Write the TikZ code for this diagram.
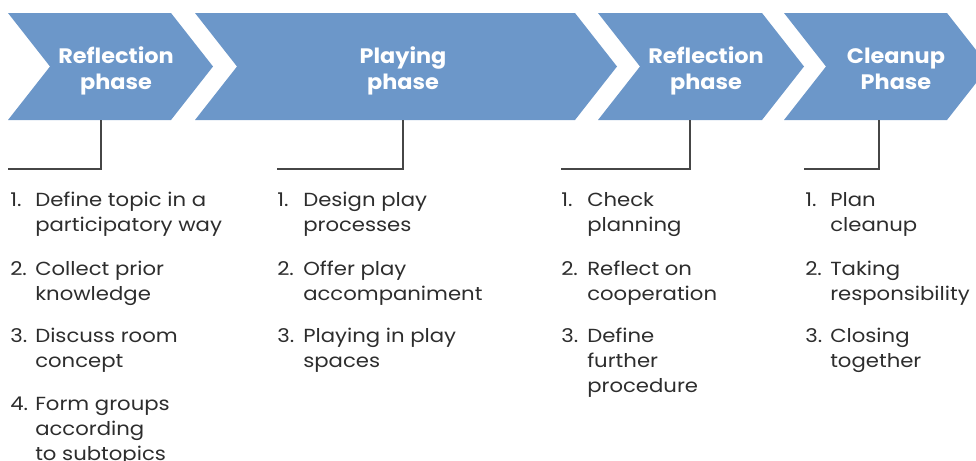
\documentclass[tikz,border=0pt]{standalone}
\usepackage{fontspec}
\setmainfont{Poppins}
\newfontfamily\headfont[FakeStretch=1.07]{Poppins}
\newfontfamily\listfont[FakeStretch=1.12]{Poppins}

\definecolor{phaseblue}{RGB}{108,151,201}
\definecolor{linegray}{RGB}{70,70,70}
\definecolor{textgray}{RGB}{45,45,45}

\tikzset{
  phase/.style={anchor=north, yshift=13.65pt, text=white, align=center,
    inner sep=0pt, font=\headfont\bfseries\fontsize{15.7}{19.5}\selectfont},
  num/.style={anchor=base west, inner sep=0pt, text=textgray,
    font=\listfont\fontsize{14.2}{18.75}\selectfont},
  item/.style={anchor=north west, yshift=13.125pt, align=left, inner sep=0pt,
    text=textgray, font=\listfont\fontsize{14.2}{18.75}\selectfont},
  tick/.style={draw=linegray, line width=0.8pt}
}

% chevron: left edge, right edge of the top side
\newcommand{\chevron}[2]{%
  \fill[phaseblue] (#1, \yt) -- (#2, \yt) -- (#2 + \dep, \ym) -- (#2, \yb)
    -- (#1, \yb) -- (#1 + \dep, \ym) -- cycle;}

\begin{document}
\begin{tikzpicture}[x=0.75pt, y=-0.75pt]
\pgfmathsetmacro{\yt}{13}
\pgfmathsetmacro{\yb}{120}
\pgfmathsetmacro{\ym}{66.5}
\pgfmathsetmacro{\dep}{42}
\pgfmathsetmacro{\yl}{169}

\useasboundingbox (0, 0) rectangle (976, 461);

\begin{scope}
\clip (0, 0) rectangle (976, 461);
\chevron{8}{171}
\chevron{195}{575}
\chevron{598}{762}
\chevron{784}{947}
\end{scope}

\node[phase] (p1) at (116, 63) {\strut Reflection\\phase};
\node[phase] (p2) at (403, 63) {\strut Playing\\phase};
\node[phase] (p3) at (706, 63) {\strut Reflection\\phase};
\node[phase] (p4) at (896, 63) {\strut Cleanup\\Phase};

% brackets below the arrows
\coordinate (b1) at (101, \yb);
\coordinate (e1) at (8, \yl);
\coordinate (b2) at (403, \yb);
\coordinate (e2) at (277, \yl);
\coordinate (b3) at (690, \yb);
\coordinate (e3) at (561, \yl);
\coordinate (b4) at (879, \yb);
\coordinate (e4) at (804, \yl);
\draw[tick] (b1) |- (e1);
\draw[tick] (b2) |- (e2);
\draw[tick] (b3) |- (e3);
\draw[tick] (b4) |- (e4);

% reflection phase
\node[num] (n11) at (10, 206) {1.};
\node[item] (t11) at (35, 206) {\strut Define topic in a\\participatory way};
\node[num] (n12) at (10, 275) {2.};
\node[item] (t12) at (35, 275) {\strut Collect prior\\knowledge};
\node[num] (n13) at (10, 342) {3.};
\node[item] (t13) at (35, 342) {\strut Discuss room\\concept};
\node[num] (n14) at (10, 410) {4.};
\node[item] (t14) at (35, 410) {\strut Form groups\\according\\to subtopics};

% playing phase
\node[num] (n21) at (277, 206) {1.};
\node[item] (t21) at (303, 206) {\strut Design play\\processes};
\node[num] (n22) at (277, 275) {2.};
\node[item] (t22) at (303, 275) {\strut Offer play\\accompaniment};
\node[num] (n23) at (277, 342) {3.};
\node[item] (t23) at (303, 342) {\strut Playing in play\\spaces};

% second reflection phase
\node[num] (n31) at (561, 206) {1.};
\node[item] (t31) at (587, 206) {\strut Check\\planning};
\node[num] (n32) at (561, 275) {2.};
\node[item] (t32) at (587, 275) {\strut Reflect on\\cooperation};
\node[num] (n33) at (561, 342) {3.};
\node[item] (t33) at (587, 342) {\strut Define\\further\\procedure};

% cleanup phase
\node[num] (n41) at (805, 206) {1.};
\node[item] (t41) at (830, 206) {\strut Plan\\cleanup};
\node[num] (n42) at (805, 275) {2.};
\node[item] (t42) at (830, 275) {\strut Taking\\responsibility};
\node[num] (n43) at (805, 342) {3.};
\node[item] (t43) at (830, 342) {\strut Closing\\together};
\end{tikzpicture}
\end{document}
